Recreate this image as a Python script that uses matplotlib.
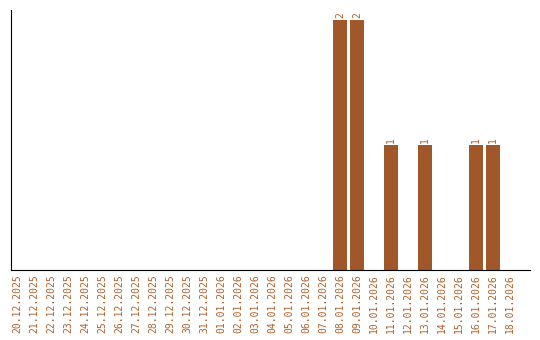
import matplotlib
matplotlib.use("Agg")
import matplotlib.pyplot as plt
import pandas as pd

# daily counts, 20.12.2025 .. 18.01.2026
dates = pd.date_range("2025-12-20", "2026-01-18", freq="D")
labels = [d.strftime("%d.%m.%Y") for d in dates]
nonzero = {"08.01.2026": 2, "09.01.2026": 2, "11.01.2026": 1,
           "13.01.2026": 1, "16.01.2026": 1, "17.01.2026": 1}
counts = [nonzero.get(l, 0) for l in labels]

bar_color = "#A0572A"
text_color = "#AD612C"

fig = plt.figure(figsize=(5.4, 3.4), dpi=100)
ax = fig.add_axes([11 / 540, 70 / 340, 519 / 540, 260 / 340])

x = list(range(len(labels)))
ax.bar(x, counts, width=0.82, color=bar_color)
for xi, c in zip(x, counts):
    if c > 0:
        ax.text(xi, c + 0.02, str(c), rotation=90, ha="center", va="bottom",
                fontsize=7, color=text_color, family="DejaVu Sans Mono")

ax.set_xlim(-0.35, 30.18)
ax.set_ylim(0, 2.08)
ax.set_xticks(x)
ax.set_xticklabels(labels, rotation=90, fontsize=7, color=text_color,
                   family="DejaVu Sans Mono")
ax.tick_params(axis="x", length=0, pad=3)
ax.set_yticks([])
for s in ["top", "right"]:
    ax.spines[s].set_visible(False)

fig.savefig("out.png", dpi=100)
